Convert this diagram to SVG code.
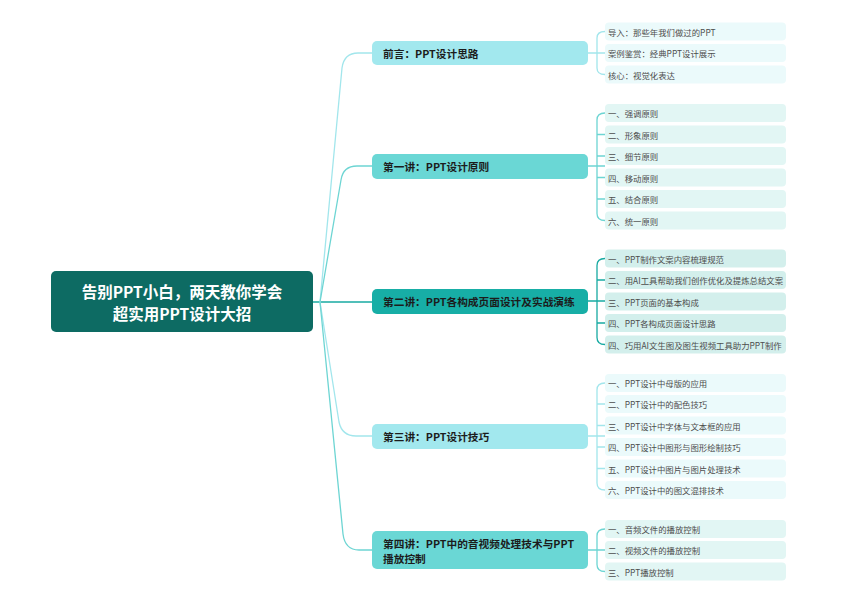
<svg xmlns="http://www.w3.org/2000/svg" width="844" height="597" viewBox="0 0 844 597">
<style>
text{font-family:"Noto Sans CJK SC","Noto Sans",sans-serif;dominant-baseline:central}
.root{fill:#0d6b63}
.rt{fill:#fff;font-size:15.5px;font-weight:bold;text-anchor:middle}
.bt{fill:#1c1c1c;font-size:10.7px;font-weight:bold}
.lt{fill:#4d4d4d;font-size:8.4px}
.c1{fill:#a2e8ee}.c2{fill:#6ad7d5}.c3{fill:#17aea6}
.l1{fill:#ebfafb}.l2{fill:#e2f6f4}.l3{fill:#d3efec}
.k1{stroke:#a2e6ec}.k2{stroke:#6dd5d3}.k3{stroke:#17aaa2}
#connectors path{fill:none;stroke-width:1.3}
</style>
<rect width="844" height="597" fill="#fff"/>
<g id="connectors">
<path class="k3" d="M312,302 H372"/>
<path class="k1" d="M320,302 L342,68 Q344,53 358,53 H372"/>
<path class="k2" d="M320,302 L341,180 Q343,166 357,166 H372"/>
<path class="k1" d="M320,302 L339,422 Q342,436 356,436 H372"/>
<path class="k2" d="M320,302 L343,534 Q345,550 359,550 H372"/>
<path class="k1" d="M588,53 H605 M597,53 V38 Q597,31.5 605,31.5 M597,53 V68 Q597,74.5 605,74.5"/>
<path class="k2" d="M588,166 H605 M597,166 V120 Q597,113 605,113 M597,134.5 H605 M597,156 H605 M597,177.5 H605 M597,199 H605 M597,166 V213.5 Q597,220.5 605,220.5"/>
<path class="k3" d="M588,301 H605 M597,301 V265.5 Q597,258.5 605,258.5 M597,280 H605 M597,323 H605 M597,301 V337.5 Q597,344.5 605,344.5"/>
<path class="k1" d="M588,436 H605 M597,436 V390 Q597,383 605,383 M597,404 H605 M597,425.5 H605 M597,447 H605 M597,468.5 H605 M597,436 V483 Q597,490 605,490"/>
<path class="k2" d="M588,550 H605 M597,550 V536 Q597,529 605,529 M597,550 V564.5 Q597,571.5 605,571.5"/>
</g>
<g id="root">
<rect class="root" x="51" y="271" width="262" height="61" rx="5"/>
<text class="rt" x="182" y="291">告别PPT小白，两天教你学会</text>
<text class="rt" x="182" y="313">超实用PPT设计大招</text>
</g>
<g id="b1">
<rect class="c1" x="372" y="41" width="216" height="24" rx="5"/>
<text class="bt" x="383" y="53">前言：PPT设计思路</text>
</g>
<g id="b2">
<rect class="c2" x="372" y="154" width="216" height="25" rx="5"/>
<text class="bt" x="383" y="166">第一讲：PPT设计原则</text>
</g>
<g id="b3">
<rect class="c3" x="372" y="289" width="216" height="25" rx="5"/>
<text class="bt" x="383" y="301">第二讲：PPT各构成页面设计及实战演练</text>
</g>
<g id="b4">
<rect class="c1" x="372" y="424" width="216" height="25" rx="5"/>
<text class="bt" x="383" y="436">第三讲：PPT设计技巧</text>
</g>
<g id="b5">
<rect class="c2" x="372" y="531" width="216" height="38" rx="5"/>
<text class="bt" x="383" y="543">第四讲：PPT中的音视频处理技术与PPT</text>
<text class="bt" x="383" y="558">播放控制</text>
</g>
<g id="leaves1">
<g id="l1-1"><rect class="l1" x="605" y="22.5" width="181" height="18" rx="4"/><text class="lt" x="608" y="31.5">导入：那些年我们做过的PPT</text></g>
<g id="l1-2"><rect class="l1" x="605" y="44" width="181" height="18" rx="4"/><text class="lt" x="608" y="53">案例鉴赏：经典PPT设计展示</text></g>
<g id="l1-3"><rect class="l1" x="605" y="65.5" width="181" height="18" rx="4"/><text class="lt" x="608" y="74.5">核心：视觉化表达</text></g>
</g>
<g id="leaves2">
<g id="l2-1"><rect class="l2" x="605" y="104" width="181" height="18" rx="4"/><text class="lt" x="608" y="113">一、强调原则</text></g>
<g id="l2-2"><rect class="l2" x="605" y="125.5" width="181" height="18" rx="4"/><text class="lt" x="608" y="134.5">二、形象原则</text></g>
<g id="l2-3"><rect class="l2" x="605" y="147" width="181" height="18" rx="4"/><text class="lt" x="608" y="156">三、细节原则</text></g>
<g id="l2-4"><rect class="l2" x="605" y="168.5" width="181" height="18" rx="4"/><text class="lt" x="608" y="177.5">四、移动原则</text></g>
<g id="l2-5"><rect class="l2" x="605" y="190" width="181" height="18" rx="4"/><text class="lt" x="608" y="199">五、结合原则</text></g>
<g id="l2-6"><rect class="l2" x="605" y="211.5" width="181" height="18" rx="4"/><text class="lt" x="608" y="220.5">六、统一原则</text></g>
</g>
<g id="leaves3">
<g id="l3-1"><rect class="l3" x="605" y="249.5" width="181" height="18" rx="4"/><text class="lt" x="608" y="258.5">一、PPT制作文案内容梳理规范</text></g>
<g id="l3-2"><rect class="l3" x="605" y="271" width="181" height="18" rx="4"/><text class="lt" x="608" y="280">二、用AI工具帮助我们创作优化及提炼总结文案</text></g>
<g id="l3-3"><rect class="l3" x="605" y="292.5" width="181" height="18" rx="4"/><text class="lt" x="608" y="301.5">三、PPT页面的基本构成</text></g>
<g id="l3-4"><rect class="l3" x="605" y="314" width="181" height="18" rx="4"/><text class="lt" x="608" y="323">四、PPT各构成页面设计思路</text></g>
<g id="l3-5"><rect class="l3" x="605" y="335.5" width="181" height="18" rx="4"/><text class="lt" x="608" y="344.5">四、巧用AI文生图及图生视频工具助力PPT制作</text></g>
</g>
<g id="leaves4">
<g id="l4-1"><rect class="l1" x="605" y="374" width="181" height="18" rx="4"/><text class="lt" x="608" y="383">一、PPT设计中母版的应用</text></g>
<g id="l4-2"><rect class="l1" x="605" y="395" width="181" height="18" rx="4"/><text class="lt" x="608" y="404">二、PPT设计中的配色技巧</text></g>
<g id="l4-3"><rect class="l1" x="605" y="416.5" width="181" height="18" rx="4"/><text class="lt" x="608" y="425.5">三、PPT设计中字体与文本框的应用</text></g>
<g id="l4-4"><rect class="l1" x="605" y="438" width="181" height="18" rx="4"/><text class="lt" x="608" y="447">四、PPT设计中图形与图形绘制技巧</text></g>
<g id="l4-5"><rect class="l1" x="605" y="459.5" width="181" height="18" rx="4"/><text class="lt" x="608" y="468.5">五、PPT设计中图片与图片处理技术</text></g>
<g id="l4-6"><rect class="l1" x="605" y="481" width="181" height="18" rx="4"/><text class="lt" x="608" y="490">六、PPT设计中的图文混排技术</text></g>
</g>
<g id="leaves5">
<g id="l5-1"><rect class="l2" x="605" y="520" width="181" height="18" rx="4"/><text class="lt" x="608" y="529">一、音频文件的播放控制</text></g>
<g id="l5-2"><rect class="l2" x="605" y="541" width="181" height="18" rx="4"/><text class="lt" x="608" y="550">二、视频文件的播放控制</text></g>
<g id="l5-3"><rect class="l2" x="605" y="562.5" width="181" height="18" rx="4"/><text class="lt" x="608" y="571.5">三、PPT播放控制</text></g>
</g>
</svg>
